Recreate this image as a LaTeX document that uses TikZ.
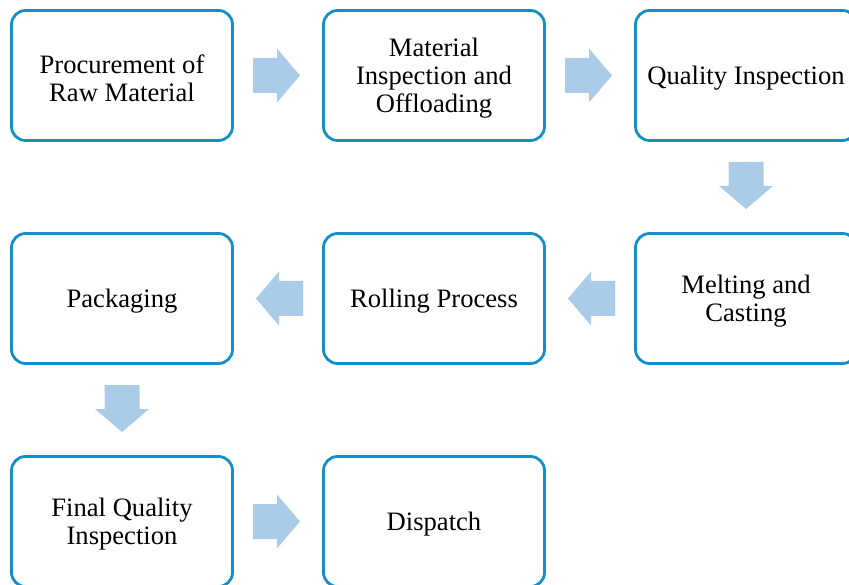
\documentclass[tikz,border=0pt]{standalone}
\usepackage{fontspec}
\setmainfont{Liberation Serif}
\definecolor{boxblue}{RGB}{22,143,198}
\definecolor{arrowblue}{RGB}{171,204,233}
\begin{document}
\begin{tikzpicture}[x=1pt,y=-1pt,
  steptext/.style={align=center, font=\fontsize{26.6}{28}\selectfont,
    inner sep=0pt, yshift=-2.5pt},
  stepbox/.style={draw=boxblue, line width=2.8pt, rounded corners=14pt,
    minimum width=221pt, minimum height=130pt, inner sep=0pt,
    label={[steptext]center:{#1}}},
  blockarrow/.pic={\fill[arrowblue] (-25,-17.5) -- (-1,-17.5) -- (-1,-27) -- (22,0) -- (-1,27) -- (-1,17.5) -- (-25,17.5) -- cycle;}]
\useasboundingbox (0,0) rectangle (849,585);
\clip (0,0) rectangle (849,585);
\node[stepbox={Procurement of\\Raw Material}] (n1) at (122,75.5) {};
\node[stepbox={Material\\Inspection and\\Offloading}] (n2) at (434,75.5) {};
\node[stepbox={Quality Inspection}] (n3) at (746,75.5) {};
\node[stepbox={Melting and\\Casting}] (n4) at (746,298.5) {};
\node[stepbox={Rolling Process}] (n5) at (434,298.5) {};
\node[stepbox={Packaging}] (n6) at (122,298.5) {};
\node[stepbox={Final Quality\\Inspection}] (n7) at (122,521.5) {};
\node[stepbox={Dispatch}] (n8) at (434,521.5) {};
\path (n1.east) -- (n2.west) coordinate[pos=0.5] (a1);
\path (n2.east) -- (n3.west) coordinate[pos=0.5] (a2);
\path (n3.south) -- (n4.north) coordinate[pos=0.5] (a3);
\path (n4.west) -- (n5.east) coordinate[pos=0.5] (a4);
\path (n5.west) -- (n6.east) coordinate[pos=0.5] (a5);
\path (n6.south) -- (n7.north) coordinate[pos=0.5] (a6);
\path (n7.east) -- (n8.west) coordinate[pos=0.5] (a7);
\pic at (a1) {blockarrow};
\pic at (a2) {blockarrow};
\pic[rotate=-90] at (a3) {blockarrow};
\pic[rotate=180] at (a4) {blockarrow};
\pic[rotate=180] at (a5) {blockarrow};
\pic[rotate=-90] at (a6) {blockarrow};
\pic at (a7) {blockarrow};
\end{tikzpicture}
\end{document}
